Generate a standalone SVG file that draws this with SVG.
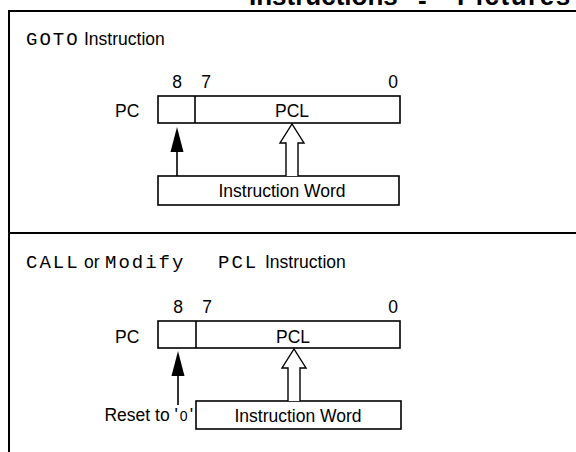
<svg xmlns="http://www.w3.org/2000/svg" width="576" height="452" viewBox="0 0 576 452">
<defs>
<style>
.t{font-family:"Liberation Sans",Arial,sans-serif;font-size:17.5px;fill:#000}
.h{font-family:"Liberation Sans",Arial,sans-serif;font-size:17.5px;fill:#000}
.m{font-family:"Liberation Mono","Courier New",monospace;font-size:19px;letter-spacing:2px}
.box{fill:#fff;stroke:#000;stroke-width:1.6}
.frame{fill:none;stroke:#000;stroke-width:2}
.ln{stroke:#000;stroke-width:1.6;fill:none}
.hollow{fill:#fff;stroke:#000;stroke-width:1.4}
.head{fill:#000}
.title{font-family:"Liberation Sans",Arial,sans-serif;font-size:26px;font-weight:bold}
</style>
</defs>
<g id="title">
<text class="title" x="249" y="5">Instructions</text>
<text class="title" x="418" y="9">-</text>
<text class="title" x="457" y="5" style="letter-spacing:1.5px">Pictures</text>
</g>
<g id="frame">
<path class="frame" d="M9 452 V11 H576"/>
<path class="frame" d="M9 233 H576"/>
</g>
<g id="panel1">
<text class="h" y="45"><tspan class="m" x="26">GOTO</tspan><tspan x="84">Instruction</tspan></text>
<g id="pc1">
<text class="t" x="115" y="117">PC</text>
<rect class="box" x="158" y="96" width="242" height="27"/>
<line class="ln" x1="195" y1="96" x2="195" y2="123"/>
<text class="t" x="177" y="88" text-anchor="middle">8</text>
<text class="t" x="206" y="88" text-anchor="middle">7</text>
<text class="t" x="393" y="88" text-anchor="middle">0</text>
<text class="t" x="292" y="117" text-anchor="middle">PCL</text>
</g>
<g id="iw1">
<rect class="box" x="158" y="176" width="241" height="29"/>
<text class="t" x="282" y="197" text-anchor="middle">Instruction Word</text>
</g>
</g>
<g id="panel2">
<text class="h" y="268"><tspan class="m" x="26">CALL</tspan><tspan x="84">or</tspan><tspan class="m" x="105">Modify</tspan><tspan class="m" x="218">PCL</tspan><tspan x="265">Instruction</tspan></text>
<g id="pc2">
<text class="t" x="115" y="343">PC</text>
<rect class="box" x="158" y="321" width="242" height="27"/>
<line class="ln" x1="196" y1="321" x2="196" y2="348"/>
<text class="t" x="178" y="313" text-anchor="middle">8</text>
<text class="t" x="207" y="313" text-anchor="middle">7</text>
<text class="t" x="393" y="313" text-anchor="middle">0</text>
<text class="t" x="293" y="343" text-anchor="middle">PCL</text>
</g>
<g id="iw2">
<rect class="box" x="196" y="401" width="205" height="28"/>
<text class="t" x="298" y="422" text-anchor="middle">Instruction Word</text>
</g>
<text id="reset" class="t" x="193" y="421" text-anchor="end">Reset to '<tspan dx="2" style="font-size:14px">0</tspan><tspan dx="2">'</tspan></text>
</g>
<g id="connectors">
<line class="ln" x1="177" y1="176" x2="177" y2="148"/>
<path class="head" d="M177 127 L183.5 152 L170.5 152 Z"/>
<path class="hollow" d="M286 176 V143 H280 L292 124 L304 143 H298 V176"/>
<line class="ln" x1="178" y1="405" x2="178" y2="372"/>
<path class="head" d="M178 351 L184.5 376 L171.5 376 Z"/>
<path class="hollow" d="M288 401 V368 H282 L294 349 L306 368 H300 V401"/>
</g>
</svg>
